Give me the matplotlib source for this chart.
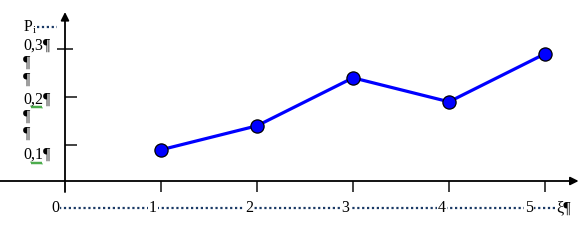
import numpy as np
import matplotlib
matplotlib.use("Agg")
import matplotlib.pyplot as plt

# ---- data ----
xi = [1, 2, 3, 4, 5]
pi = [0.09, 0.14, 0.24, 0.19, 0.29]
x_tick_vals = [1, 2, 3, 4, 5]
x_tick_labels = ["0", "1", "2", "3", "4", "5"]
y_tick_vals = [0.1, 0.2, 0.3]
y_tick_labels = ["0,1¶", "0,2¶", "0,3¶"]

SERIF = "Liberation Serif"
FS = 11.5

fig = plt.figure(figsize=(5.88, 2.40), dpi=100)
ax = fig.add_axes([0, 0, 1, 1])
ax.set_xlim(-65 / 96, (588 - 65) / 96)
ax.set_ylim((193 - 240) / 480, 193 / 480)
ax.axis("off")

axis_col = "#333333"
x_axis_y = 0.025

# x axis with arrow
ax.annotate("", xy=(5.35, x_axis_y), xytext=(-0.68, x_axis_y),
            arrowprops=dict(arrowstyle="-|>", color="black", lw=1.3,
                            mutation_scale=12, shrinkA=0, shrinkB=0))
# y axis with arrow
ax.annotate("", xy=(0, 0.377), xytext=(0, 0.002),
            arrowprops=dict(arrowstyle="-|>", color="black", lw=1.3,
                            mutation_scale=12, shrinkA=0, shrinkB=0))

# x ticks
ax.vlines(x_tick_vals, 0.002, x_axis_y, color=axis_col, lw=1.3)
# y ticks
for v in y_tick_vals:
    left = -0.085 if v == 0.3 else 0
    right = 0.085 if v == 0.3 else 0.125
    ax.hlines(v, left, right, color=axis_col, lw=1.3)

# series
ax.plot(xi, pi, color="#0000ff", lw=2.3, zorder=3, solid_capstyle="butt")
ax.plot(xi, pi, ls="none", marker="o", ms=9.5, mfc="#0000ff",
        mec="black", mew=0.9, zorder=4)

# x labels row with dotted leaders
row_y = (193 - 208) / 480
dot_col = "#1b3a66"
ax.plot([-0.06, 5.15], [row_y, row_y], ls=(0, (1, 1.2)), color=dot_col, lw=1.6, zorder=1)
x_lab_pos = [-0.104, 0.917, 1.917, 2.917, 3.924, 4.833]
for p, t in zip(x_lab_pos, x_tick_labels):
    ax.text(p, row_y, t, ha="center", va="center", fontsize=FS, family=SERIF,
            bbox=dict(facecolor="white", edgecolor="none", pad=0.6), zorder=2)
ax.text(5.12, row_y, "ξ¶", ha="left", va="center", fontsize=FS, family=SERIF,
        bbox=dict(facecolor="white", edgecolor="none", pad=0.3), zorder=2)

# y labels column
lx = (23 - 65) / 96
ax.text(lx, (193 - 27) / 480, "P$_\\mathregular{i}$", ha="left", va="center",
        fontsize=FS, family=SERIF)
ax.plot([(37 - 65) / 96, (57 - 65) / 96], [(193 - 27) / 480] * 2,
        ls=(0, (1, 1.2)), color=dot_col, lw=1.6)
lab_px = {0.3: 46, 0.2: 100, 0.1: 155}
for v, t in zip(y_tick_vals, y_tick_labels):
    ax.text(lx, (193 - lab_px[v]) / 480, t, ha="left", va="center",
            fontsize=FS, family=SERIF)
for py in [63, 80, 117, 134]:
    ax.text(lx, (193 - py) / 480, "¶", ha="left", va="center",
            fontsize=FS, family=SERIF)

# green spelling squiggles under 0,2 and 0,1
for py in [107, 163]:
    xs = np.linspace((31 - 65) / 96, (42 - 65) / 96, 12)
    ys = (193 - py) / 480 + np.where(np.arange(12) % 2 == 0, 0.002, -0.002)
    ax.plot(xs, ys, color="#2e9e2e", lw=0.8)

fig.savefig("out.png", dpi=100)
